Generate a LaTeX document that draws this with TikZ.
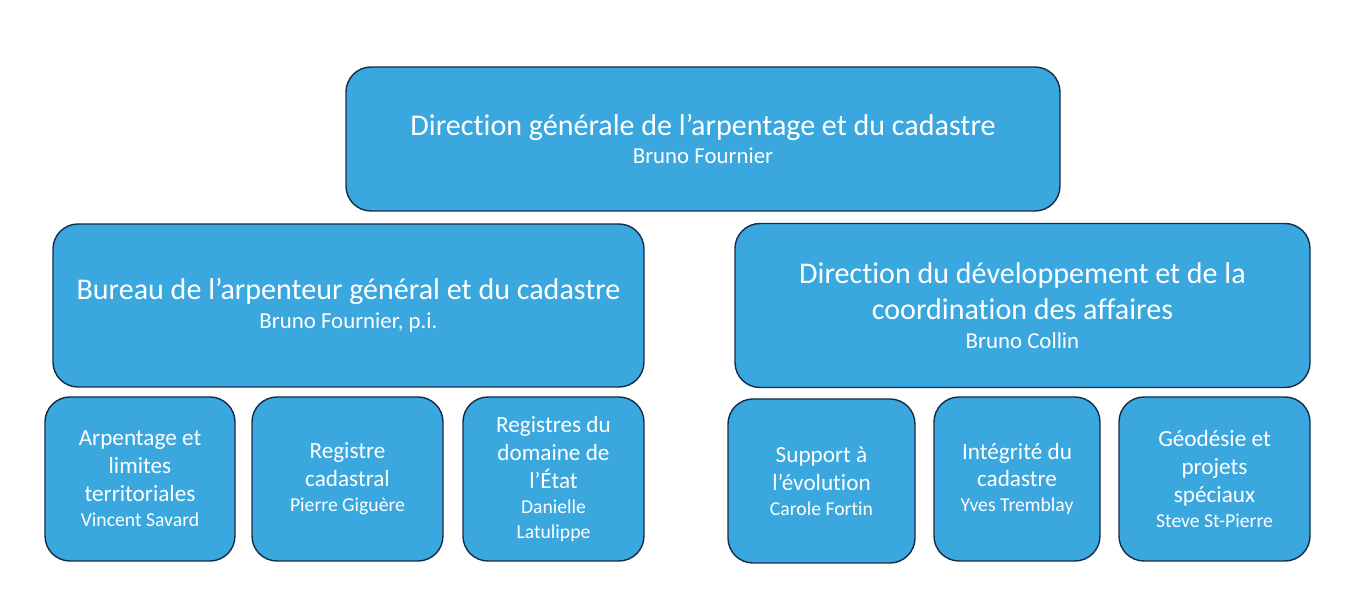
\documentclass[tikz,border=0pt]{standalone}
\usepackage{fontspec}
\setmainfont[Ligatures=NoCommon]{Carlito}
\definecolor{boxfill}{RGB}{58,167,222}
\definecolor{boxline}{RGB}{22,45,72}
\begin{document}
\begin{tikzpicture}[x=0.02cm,y=-0.02cm,
  unitbox/.style={draw=boxline, fill=boxfill, line width=0.8pt, rounded corners=0.5cm,
    text=white, align=center, inner sep=0pt},
  bigbox/.style={unitbox, font=\fontsize{17.1}{20.4}\selectfont},
  smallbox/.style={unitbox, font=\fontsize{13.2}{15.9}\selectfont},
]
\useasboundingbox (0,0) rectangle (1367,597);
\newcommand{\bignm}{\fontsize{13}{15}\selectfont}
\newcommand{\smallnm}{\fontsize{11.2}{13.4}\selectfont}

\node[bigbox, minimum width=714*0.02cm, minimum height=144*0.02cm] (dg) at (703,139)
  {Direction générale de l’arpentage et du cadastre\\[-4pt]{\bignm Bruno Fournier}};
\node[bigbox, minimum width=591*0.02cm, minimum height=163*0.02cm] (bag) at (348.5,305.5)
  {Bureau de l’arpenteur général et du cadastre\\[-4pt]{\bignm Bruno Fournier, p.i.}};
\node[bigbox, minimum width=575*0.02cm, minimum height=164*0.02cm] (ddc) at (1022.5,305.5)
  {Direction du développement et de la\\coordination des affaires\\[-4pt]{\bignm Bruno Collin}};

\node[smallbox, minimum width=190*0.02cm, minimum height=164*0.02cm] (b1) at (140,479)
  {Arpentage et\\limites\\territoriales\\[-1.7pt]{\smallnm Vincent Savard}};
\node[smallbox, minimum width=191*0.02cm, minimum height=164*0.02cm] (b2) at (347.5,479)
  {Registre\\cadastral\\[-1.7pt]{\smallnm Pierre Giguère}};
\node[smallbox, minimum width=181*0.02cm, minimum height=164*0.02cm] (b3) at (553.5,479)
  {Registres du\\domaine de\\l’État\\[-1.7pt]{\smallnm Danielle}\\[-1.7pt]{\smallnm Latulippe}};

\node[smallbox, minimum width=187*0.02cm, minimum height=164*0.02cm] (b4) at (821.5,481)
  {Support à\\l’évolution\\[-1.7pt]{\smallnm Carole Fortin}};
\node[smallbox, minimum width=166*0.02cm, minimum height=164*0.02cm] (b5) at (1017,479)
  {Intégrité du\\cadastre\\[-1.7pt]{\smallnm Yves Tremblay}};
\node[smallbox, minimum width=191*0.02cm, minimum height=164*0.02cm] (b6) at (1214.5,479)
  {Géodésie et\\projets\\spéciaux\\[-1.7pt]{\smallnm Steve St-Pierre}};
\end{tikzpicture}
\end{document}
